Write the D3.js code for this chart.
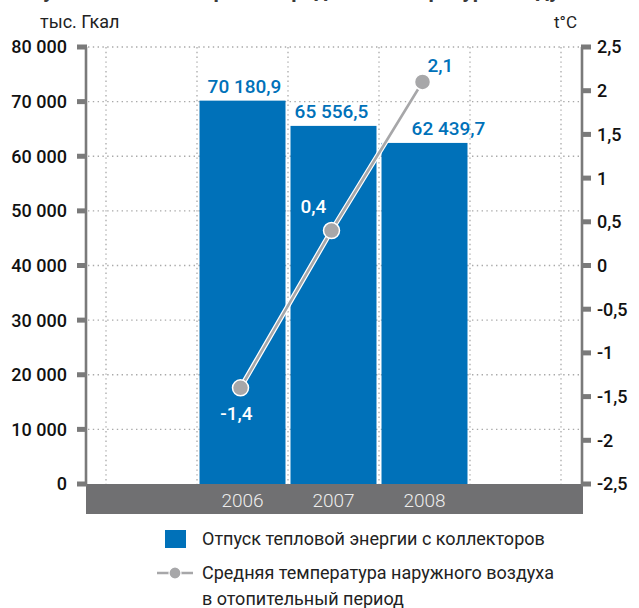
<!DOCTYPE html>
<html>
<head>
<meta charset="utf-8">
<script src="https://cdn.jsdelivr.net/npm/d3@7"></script>
<style>
  body { margin: 0; background: #fff; }
  svg { display: block; font-family: Roboto, "Noto Sans", sans-serif; }
</style>
</head>
<body>
<script>
'use strict';

// chart values
const years = ["2006", "2007", "2008"];
const heat = [70180.9, 65556.5, 62439.7];       // тыс. Гкал
const temperature = [-1.4, 0.4, 2.1];           // t°C
const leftTicks = [0, 10000, 20000, 30000, 40000, 50000, 60000, 70000, 80000];
const rightTicks = [-2.5, -2, -1.5, -1, -0.5, 0, 0.5, 1, 1.5, 2, 2.5];
const slots = ["pad0", "2006", "2007", "2008", "pad1"];   // empty columns at both sides

const W = 639, H = 608;
const blue = "#0071b9", axisGrey = "#7a7a7a", lineGrey = "#a7a7a9";

const locale = d3.formatLocale({
    decimal: ",", thousands: "\u00a0", grouping: [3], currency: ["", ""], minus: "-"
});
const fmtThousands = locale.format(",");
const fmtValue = locale.format(",.1f");
const fmtTemp = locale.format(".1f");
const fmtRight = locale.format(".1~f");

let svg = d3.select("body").append("svg")
    .attr("width", W)
    .attr("height", H);

// scales
let x = d3.scaleBand()
    .domain(slots)
    .range([106, 561])
    .paddingInner(0.055)
    .paddingOuter(0.0275);
let yLeft = d3.scaleLinear().domain([0, 80000]).range([484, 47]);
let yRight = d3.scaleLinear().domain([-2.5, 2.5]).range([484, 47]);
const plotLeft = 86, plotRight = 582;

// title, cut by the top edge as in the source page
svg.append("text")
    .attr("x", 6)
    .attr("y", -2)
    .attr("font-size", "21px")
    .attr("font-weight", 700)
    .attr("fill", "#3a3a3a")
    .text("Отпуск тепловой энергии и средняя температура воздуха");

// dotted grid
let grid = svg.append("g")
    .attr("stroke", "#a9a9a9")
    .attr("stroke-width", 1.3)
    .attr("stroke-dasharray", "1.4 3.4");
grid.selectAll(".hgrid")
    .data(leftTicks.filter(d => d > 0))
    .enter()
    .append("line")
        .attr("x1", plotLeft + 2)
        .attr("x2", plotRight - 2)
        .attr("y1", d => yLeft(d))
        .attr("y2", d => yLeft(d));
let bounds = d3.range(slots.length + 1).map(i => x.range()[0] + i * x.step());
grid.selectAll(".vgrid")
    .data(bounds)
    .enter()
    .append("line")
        .attr("x1", d => d)
        .attr("x2", d => d)
        .attr("y1", yLeft(80000))
        .attr("y2", yLeft(0));

// bars
svg.selectAll(".bar")
    .data(years)
    .enter()
    .append("rect")
        .attr("x", d => x(d))
        .attr("y", (d, i) => yLeft(heat[i]))
        .attr("width", x.bandwidth())
        .attr("height", (d, i) => yLeft(0) - yLeft(heat[i]))
        .attr("fill", blue);

// bar value labels (the last one is pushed right, clear of the line)
const barDx = [2, -2, 24];
svg.selectAll(".barlabel")
    .data(years)
    .enter()
    .append("text")
        .attr("x", (d, i) => x(d) + x.bandwidth() / 2 + barDx[i])
        .attr("y", (d, i) => yLeft(heat[i]) - 8)
        .attr("text-anchor", "middle")
        .attr("font-size", "19px")
        .attr("font-weight", 500)
        .attr("fill", blue)
        .text((d, i) => fmtValue(heat[i]));

// grey band with years
svg.append("rect")
    .attr("x", plotLeft)
    .attr("y", yLeft(0))
    .attr("width", plotRight + 1 - plotLeft)
    .attr("height", 30)
    .attr("fill", "#707072");
svg.selectAll(".year")
    .data(years)
    .enter()
    .append("text")
        .attr("x", d => x(d) + x.bandwidth() / 2)
        .attr("y", yLeft(0) + 23)
        .attr("text-anchor", "middle")
        .attr("font-size", "19px")
        .attr("font-weight", 300)
        .attr("fill", "#ededed")
        .text(d => d);

// axes
function drawAxis(xPos, scale, ticks, fmt, side) {
    let g = svg.append("g");
    g.append("line")
        .attr("x1", xPos).attr("x2", xPos)
        .attr("y1", scale.range()[1]).attr("y2", scale.range()[0])
        .attr("stroke", axisGrey)
        .attr("stroke-width", 2.6);
    g.selectAll("rect")
        .data(ticks)
        .enter()
        .append("rect")
            .attr("x", side < 0 ? xPos - 9 : xPos - 1)
            .attr("y", d => scale(d) - 2.5)
            .attr("width", 10)
            .attr("height", 5)
            .attr("fill", axisGrey);
    g.selectAll("text")
        .data(ticks)
        .enter()
        .append("text")
            .attr("x", side < 0 ? xPos - 19 : xPos + 15)
            .attr("y", d => scale(d))
            .attr("dy", "0.36em")
            .attr("text-anchor", side < 0 ? "end" : "start")
            .attr("font-size", "18px")
            .attr("font-weight", 500)
            .attr("fill", "#111")
            .text(d => fmt(d));
}
drawAxis(plotLeft, yLeft, leftTicks, fmtThousands, -1);
drawAxis(plotRight, yRight, rightTicks, fmtRight, 1);

// units
svg.append("text")
    .attr("x", 40).attr("y", 28)
    .attr("font-size", "18px")
    .attr("fill", "#222")
    .text("тыс. Гкал");
svg.append("text")
    .attr("x", 577).attr("y", 28)
    .attr("text-anchor", "end")
    .attr("font-size", "17px")
    .attr("fill", "#222")
    .text("t°C");

// temperature line
let tx = d => x(d) + x.bandwidth() / 2 - 2;
let line = d3.line()
    .x(d => tx(d))
    .y((d, i) => yRight(temperature[i]));
svg.append("path")
    .datum(years)
    .attr("d", line)
    .attr("fill", "none")
    .attr("stroke", "#fff")
    .attr("stroke-width", 5);
svg.append("path")
    .datum(years)
    .attr("d", line)
    .attr("fill", "none")
    .attr("stroke", lineGrey)
    .attr("stroke-width", 2.6);
svg.selectAll(".dot")
    .data(years)
    .enter()
    .append("circle")
        .attr("cx", d => tx(d))
        .attr("cy", (d, i) => yRight(temperature[i]))
        .attr("r", 8)
        .attr("fill", lineGrey)
        .attr("stroke", "#fff")
        .attr("stroke-width", 1.5);

// temperature labels: below, left, above
const tempDx = [-4, -18, 18];
const tempDy = [32, -18, -10];
const tempFill = ["#fff", "#fff", blue];
svg.selectAll(".templabel")
    .data(years)
    .enter()
    .append("text")
        .attr("x", (d, i) => tx(d) + tempDx[i])
        .attr("y", (d, i) => yRight(temperature[i]) + tempDy[i])
        .attr("text-anchor", "middle")
        .attr("font-size", "19px")
        .attr("font-weight", 500)
        .attr("fill", (d, i) => tempFill[i])
        .text((d, i) => fmtTemp(temperature[i]));

// legend
let legend = svg.append("g")
    .attr("font-size", "18px")
    .attr("fill", "#222");
legend.append("rect")
    .attr("x", 165).attr("y", 530)
    .attr("width", 21).attr("height", 18)
    .attr("fill", blue);
legend.append("text")
    .attr("x", 202).attr("y", 545)
    .text("Отпуск тепловой энергии с коллекторов");
legend.append("line")
    .attr("x1", 157).attr("x2", 193)
    .attr("y1", 573).attr("y2", 573)
    .attr("stroke", lineGrey)
    .attr("stroke-width", 2.6);
legend.append("circle")
    .attr("cx", 175).attr("cy", 573)
    .attr("r", 6)
    .attr("fill", lineGrey)
    .attr("stroke", "#fff")
    .attr("stroke-width", 1.2);
legend.append("text")
    .attr("x", 202).attr("y", 579)
    .text("Средняя температура наружного воздуха");
legend.append("text")
    .attr("x", 202).attr("y", 605)
    .text("в отопительный период");
</script>
</body>
</html>
